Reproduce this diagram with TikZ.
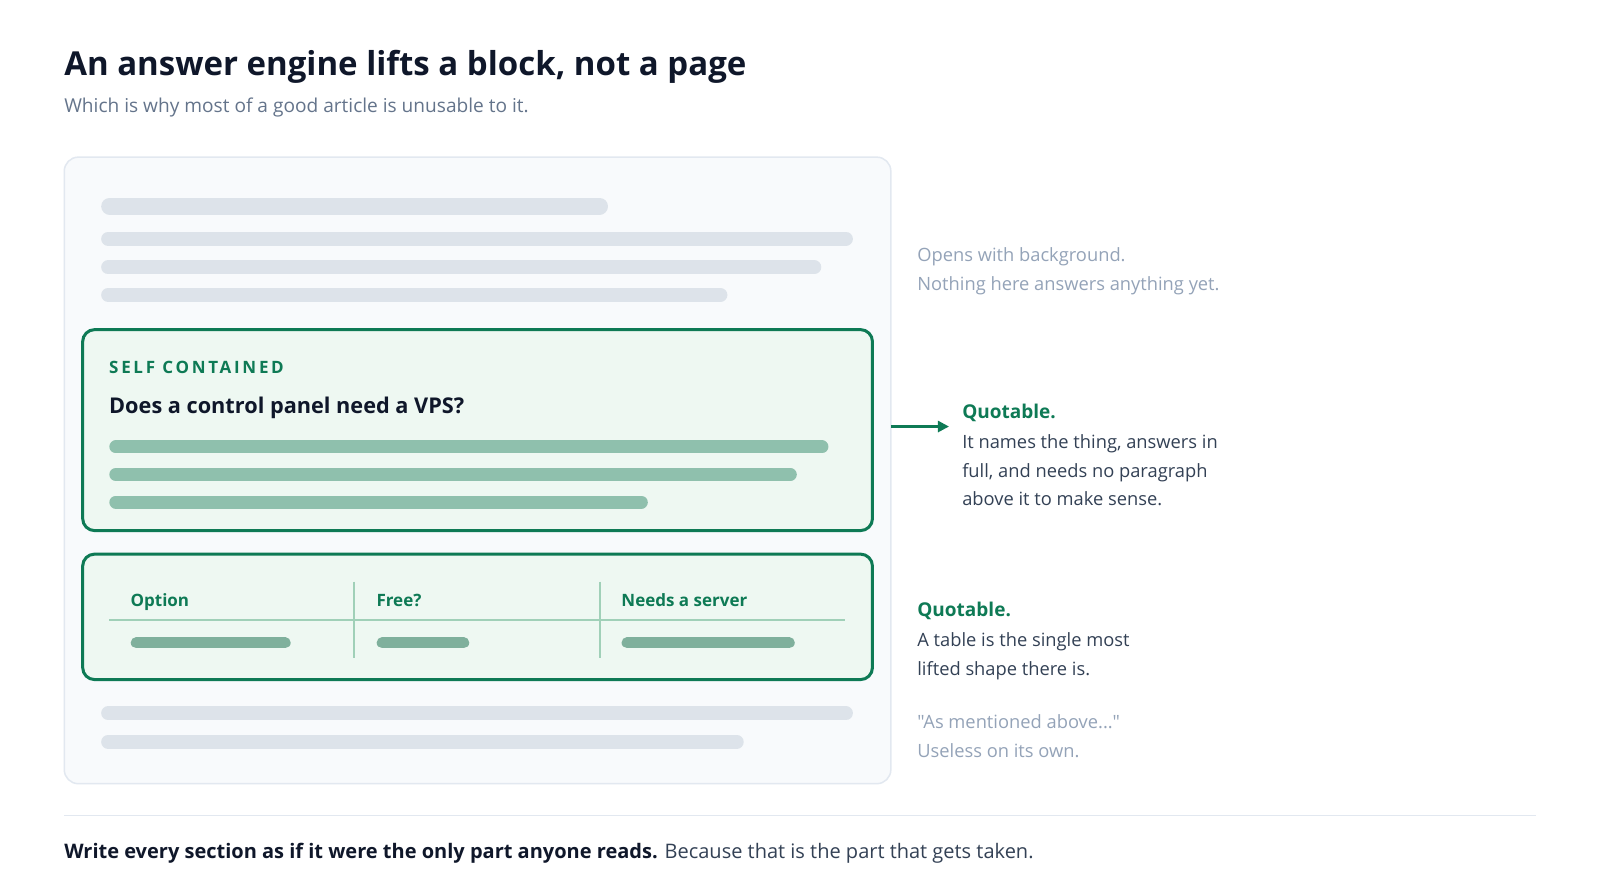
\documentclass[tikz,border=0pt]{standalone}
\usepackage{fontspec}
\setmainfont{Open Sans}
\newfontfamily\plainfont{Open Sans}
\usetikzlibrary{arrows.meta}
\definecolor{ink}{HTML}{0F172A}
\definecolor{subc}{HTML}{64748B}
\definecolor{cardfill}{HTML}{F8FAFC}
\definecolor{cardline}{HTML}{E2E8F0}
\definecolor{graybar}{HTML}{DDE3EA}
\definecolor{grn}{HTML}{0E7A55}
\definecolor{grnfill}{HTML}{EEF8F2}
\definecolor{grnbar}{HTML}{8FC0AD}
\definecolor{rule}{HTML}{A0D0B8}
\definecolor{rowbar}{HTML}{7FB09C}
\definecolor{body}{HTML}{334155}
\definecolor{muted}{HTML}{94A3B8}
\tikzset{
  txt/.style={anchor=base west, inner sep=0pt, outer sep=0pt},
  gbar/.style={line cap=round, draw=graybar},
  qbar/.style={line cap=round, draw=grnbar, line width=13pt},
  rbar/.style={line cap=round, draw=rowbar, line width=11pt},
  gbox/.style={draw=grn, line width=3pt, fill=grnfill, rounded corners=12pt},
  note/.style={txt, font=\fontsize{18.3}{22}\selectfont},
  head/.style={txt, font=\fontsize{17}{20}\selectfont\bfseries, text=grn},
}
\begin{document}
\begin{tikzpicture}[x=1.0204pt,y=-1.0204pt]
\useasboundingbox (0,0) rectangle (1568,862.4);
\fill[white] (0,0) rectangle (1568,862.4);
% title
\node[txt, font=\fontsize{33}{38}\selectfont\bfseries, text=ink] (title) at (63,74) {An answer engine lifts a block, not a page};
\node[txt, font=\fontsize{19.1}{22}\selectfont, text=subc] (subtitle) at (63,110) {Which is why most of a good article is unusable to it.};
% card
\draw[draw=cardline, fill=cardfill, line width=1.5pt, rounded corners=14pt] (63,154) rectangle (873,768);
\coordinate (cardright) at (873,418);
% top gray bars
\draw[gbar, line width=17pt] (107.5,202) -- (587.5,202);
\draw[gbar, line width=14pt] (106,234) -- (829,234);
\draw[gbar, line width=14pt] (106,262) -- (798,262);
\draw[gbar, line width=14pt] (106,289) -- (706,289);
% self contained box
\draw[gbox] (81,323) rectangle (855,520);
\node[txt, font=\fontsize{17}{20}\selectfont\bfseries\addfontfeatures{LetterSpace=16}, text=grn] (sc) at (107,366) {SELF CONTAINED};
\node[txt, font=\fontsize{21.7}{26}\selectfont\bfseries, text=ink] (q) at (107,405) {Does a control panel need a VPS?};
\draw[qbar] (113.5,438) -- (805.5,438);
\draw[qbar] (113.5,465) -- (774.5,465);
\draw[qbar] (113.5,492) -- (628.5,492);
% table box
\draw[gbox] (81,543) rectangle (855,666);
\draw[draw=rule, line width=2pt] (107,608) -- (828,608);
\draw[draw=rule, line width=2pt] (347,570) -- (347,645);
\draw[draw=rule, line width=2pt] (588,570) -- (588,645);
\node[head] (h1) at (128,594) {Option};
\node[head] (h2) at (369,594) {Free?};
\node[head] (h3) at (609,594) {Needs a server};
\draw[rbar] (133.5,630) -- (279.5,630);
\draw[rbar] (374.5,630) -- (454.5,630);
\draw[rbar] (614.5,630) -- (773.5,630);
% bottom gray bars
\draw[gbar, line width=14pt] (106,699) -- (829,699);
\draw[gbar, line width=14pt] (106,727) -- (722,727);
% right texts
\node[note, text=muted] (n1) at (899,256) {Opens with background.};
\node[note, text=muted] (n2) at (899,285) {Nothing here answers anything yet.};
\node[txt, font=\fontsize{19}{23}\selectfont\bfseries, text=grn] (qa) at (943,410) {Quotable.};
\node[note, text=body] (qa1) at (943,440) {It names the thing, answers in};
\node[note, text=body] (qa2) at (943,468) {full, and needs no paragraph};
\node[note, text=body] (qa3) at (943,495) {above it to make sense.};
\coordinate (arrowend) at (930,418);
\draw[draw=grn, line width=2.5pt, -{Triangle[length=11pt,width=11pt]}] (cardright) -- (arrowend);
\node[txt, font=\fontsize{19}{23}\selectfont\bfseries, text=grn] (qb) at (899,604) {Quotable.};
\node[note, text=body] (qb1) at (899,634) {A table is the single most};
\node[note, text=body] (qb2) at (899,662) {lifted shape there is.};
\node[note, text=muted, font=\fontsize{18.3}{22}\plainfont] (m1) at (899,714) {"As mentioned above..."};
\node[note, text=muted] (m2) at (899,742) {Useless on its own.};
% footer
\draw[draw=cardline, line width=1.5pt] (63,799) -- (1505,799);
\node[txt, font=\fontsize{20}{24}\selectfont, text=ink] (foot) at (63,841) {\textbf{Write every section as if it were the only part anyone reads.} \textcolor{body}{Because that is the part that gets taken.}};
\end{tikzpicture}
\end{document}
